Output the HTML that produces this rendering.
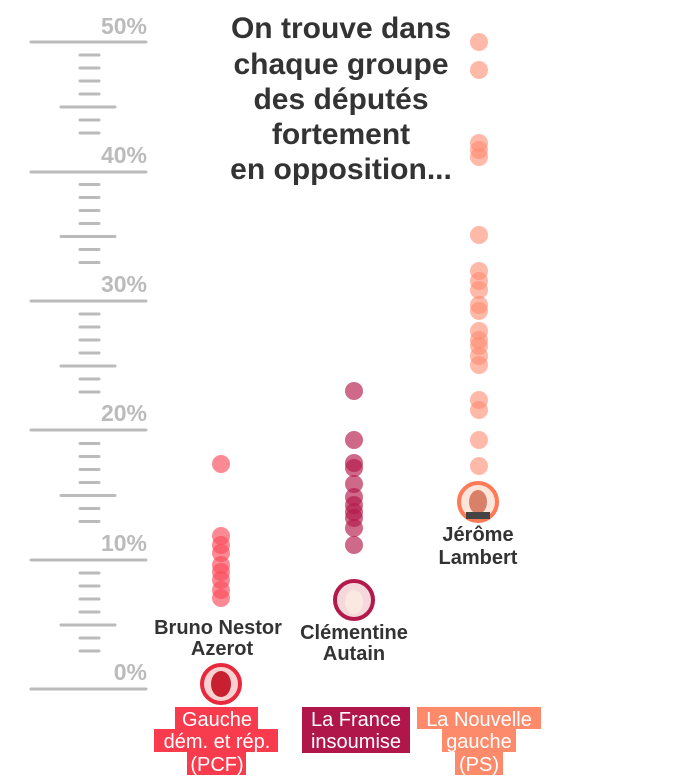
<!DOCTYPE html>
<html><head><meta charset="utf-8"><style>
html,body{margin:0;padding:0;background:#fff;width:673px;height:784px;overflow:hidden}
svg{display:block}
</style></head><body>
<svg width="673" height="784" viewBox="0 0 673 784" xmlns="http://www.w3.org/2000/svg" font-family="Liberation Sans, sans-serif">
<g stroke="#bbb" stroke-width="3" stroke-linecap="round">
<line x1="31" y1="42" x2="146" y2="42"/><line x1="31" y1="172" x2="146" y2="172"/><line x1="31" y1="301" x2="146" y2="301"/><line x1="31" y1="430" x2="146" y2="430"/><line x1="31" y1="560" x2="146" y2="560"/><line x1="31" y1="689" x2="146" y2="689"/>
<g id="m"><line x1="80" y1="55" x2="99" y2="55"/><line x1="80" y1="68" x2="99" y2="68"/><line x1="80" y1="81" x2="99" y2="81"/><line x1="80" y1="94" x2="99" y2="94"/><line x1="61" y1="107" x2="115" y2="107"/><line x1="80" y1="120" x2="99" y2="120"/><line x1="80" y1="133" x2="99" y2="133"/></g>
<use href="#m" y="129.5"/><use href="#m" y="259"/><use href="#m" y="388.5"/><use href="#m" y="518"/>
</g>
<g fill="#bbb" font-size="23" font-weight="bold" text-anchor="end">
<text x="147" y="34">50%</text><text x="147" y="163">40%</text><text x="147" y="292">30%</text><text x="147" y="421">20%</text><text x="147" y="551">10%</text><text x="147" y="680">0%</text>
</g>
<g fill="#333" font-weight="bold" font-size="30" text-anchor="middle">
<text x="341" y="38">On trouve dans</text><text x="341" y="74">chaque groupe</text><text x="341" y="109">des députés</text><text x="341" y="144">fortement</text><text x="341" y="179">en opposition...</text>
</g>
<g fill="#fa4b5a" fill-opacity="0.65">
<circle cx="221" cy="464" r="9"/><circle cx="221" cy="536" r="9"/><circle cx="221" cy="545" r="9"/><circle cx="221" cy="553" r="9"/><circle cx="221" cy="565" r="9"/><circle cx="221" cy="572" r="9"/><circle cx="221" cy="580" r="9"/><circle cx="221" cy="590" r="9"/><circle cx="221" cy="598" r="9"/>
</g>
<g fill="#b3194b" fill-opacity="0.65">
<circle cx="354" cy="391" r="9"/><circle cx="354" cy="440" r="9"/><circle cx="354" cy="463" r="9"/><circle cx="354" cy="468" r="9"/><circle cx="354" cy="484" r="9"/><circle cx="354" cy="497" r="9"/><circle cx="354" cy="505" r="9"/><circle cx="354" cy="512" r="9"/><circle cx="354" cy="518" r="9"/><circle cx="354" cy="528" r="9"/><circle cx="354" cy="545" r="9"/>
</g>
<g fill="#ff8a70" fill-opacity="0.6">
<circle cx="479" cy="42" r="9"/><circle cx="479" cy="70" r="9"/><circle cx="479" cy="143" r="9"/><circle cx="479" cy="150" r="9"/><circle cx="479" cy="157" r="9"/><circle cx="479" cy="235" r="9"/><circle cx="479" cy="271" r="9"/><circle cx="479" cy="281" r="9"/><circle cx="479" cy="290" r="9"/><circle cx="479" cy="305" r="9"/><circle cx="479" cy="311" r="9"/><circle cx="479" cy="331" r="9"/><circle cx="479" cy="340" r="9"/><circle cx="479" cy="346" r="9"/><circle cx="479" cy="356" r="9"/><circle cx="479" cy="365" r="9"/><circle cx="479" cy="400" r="9"/><circle cx="479" cy="410" r="9"/><circle cx="479" cy="440" r="9"/><circle cx="479" cy="466" r="9"/>
</g>
<circle cx="221" cy="684" r="19" fill="#fbd0d0" stroke="#e8283c" stroke-width="4"/><ellipse cx="221" cy="684" rx="10" ry="13" fill="#c82030"/>
<circle cx="354" cy="600" r="19" fill="#f5d8dc" stroke="#b3194b" stroke-width="4"/><ellipse cx="354" cy="602" rx="9" ry="12" fill="#fbe8e0"/>
<circle cx="478" cy="502" r="19" fill="#fde5dc" stroke="#ff7a55" stroke-width="4"/><ellipse cx="478" cy="502" rx="9" ry="12" fill="#d88068"/><rect x="466" y="512" width="24" height="7" fill="#444"/>
<g fill="#333" font-weight="bold" font-size="20" text-anchor="middle">
<text x="218" y="634">Bruno Nestor</text><text x="222" y="655">Azerot</text>
<text x="354" y="639">Clémentine</text><text x="354" y="660">Autain</text>
<text x="478" y="541">Jérôme</text><text x="478" y="564">Lambert</text>
</g>
<rect x="175" y="707" width="83" height="22" fill="#f83c4d"/><rect x="154" y="729" width="124" height="23" fill="#f83c4d"/><rect x="187" y="752" width="59" height="23" fill="#f83c4d"/>
<rect x="302" y="707" width="108" height="46" fill="#b0164a"/>
<rect x="417" y="707" width="124" height="22" fill="#fd8a6a"/><rect x="442" y="729" width="74" height="23" fill="#fd8a6a"/><rect x="455" y="752" width="48" height="23" fill="#fd8a6a"/>
<g fill="#fff" font-size="20" text-anchor="middle">
<text x="217" y="726">Gauche</text><text x="217" y="748">dém. et rép.</text><text x="217" y="771">(PCF)</text>
<text x="356" y="726">La France</text><text x="356" y="748">insoumise</text>
<text x="479" y="726">La Nouvelle</text><text x="479" y="748">gauche</text><text x="479" y="771">(PS)</text>
</g>
</svg>
</body></html>
